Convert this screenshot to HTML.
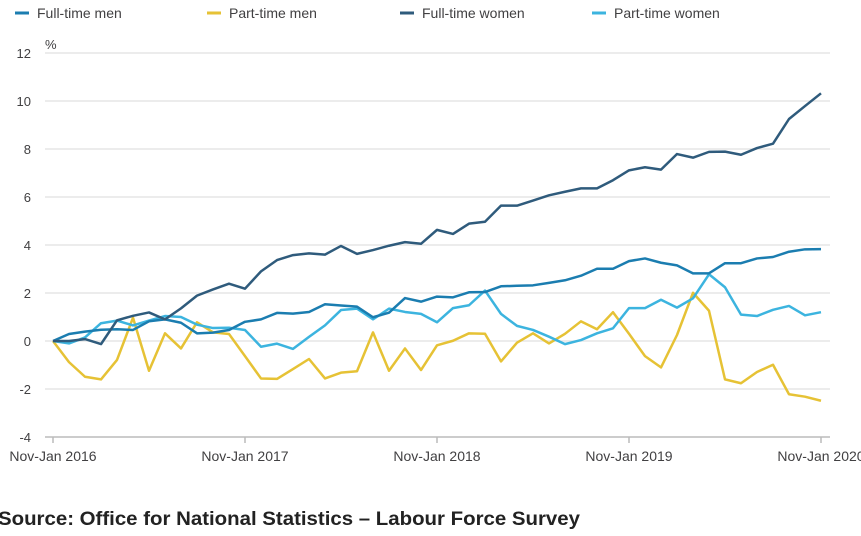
<!DOCTYPE html>
<html><head><meta charset="utf-8"><style>
body{margin:0;background:#fff;width:861px;height:531px;overflow:hidden;font-family:"Liberation Sans",sans-serif;}
svg text{font-family:"Liberation Sans",sans-serif;}
</style></head><body>
<svg id="chart" width="861" height="531" xmlns="http://www.w3.org/2000/svg">
<g id="legend"></g>
<g id="grid"></g>
<g id="yaxis"></g>
<g id="xaxis"></g>
<g id="series"></g>
<text x="45" y="49" font-size="13" fill="#414042">%</text>
<text x="-2" y="525" font-size="19.5" font-weight="bold" fill="#222" textLength="582" lengthAdjust="spacingAndGlyphs">Source: Office for National Statistics – Labour Force Survey</text>
</svg>
<script>
const xTickLabels = ["Nov-Jan 2016","Nov-Jan 2017","Nov-Jan 2018","Nov-Jan 2019","Nov-Jan 2020"];
const yTicks = [-4,-2,0,2,4,6,8,10,12];
const seriesNames = ["Full-time men","Part-time men","Full-time women","Part-time women"];
const seriesColors = ["#1b7db0","#e6c235","#2f5b7c","#3cb4df"];
const fullTimeMen = [0,0.29,0.39,0.47,0.49,0.46,0.82,0.9,0.76,0.32,0.35,0.46,0.8,0.9,1.17,1.14,1.21,1.53,1.48,1.43,0.99,1.18,1.79,1.64,1.85,1.82,2.03,2.04,2.28,2.3,2.32,2.42,2.53,2.72,3.01,3.01,3.33,3.44,3.26,3.15,2.82,2.82,3.24,3.24,3.44,3.5,3.72,3.82,3.83];
const partTimeMen = [0,-0.88,-1.49,-1.6,-0.79,0.97,-1.24,0.32,-0.31,0.78,0.36,0.29,-0.63,-1.56,-1.58,-1.17,-0.75,-1.56,-1.32,-1.26,0.36,-1.24,-0.31,-1.21,-0.18,0.01,0.32,0.3,-0.85,-0.07,0.32,-0.1,0.3,0.82,0.49,1.2,0.3,-0.63,-1.1,0.25,2.01,1.26,-1.6,-1.76,-1.29,-0.99,-2.22,-2.32,-2.49];
const fullTimeWomen = [0,0,0.08,-0.13,0.86,1.05,1.19,0.9,1.36,1.89,2.15,2.39,2.18,2.9,3.37,3.58,3.65,3.6,3.96,3.63,3.79,3.97,4.12,4.05,4.63,4.46,4.89,4.97,5.64,5.64,5.85,6.07,6.22,6.36,6.36,6.7,7.11,7.24,7.14,7.79,7.64,7.88,7.89,7.76,8.04,8.22,9.25,9.79,10.32];
const partTimeWomen = [0,-0.1,0.15,0.74,0.85,0.65,0.85,1.04,1.0,0.68,0.54,0.55,0.46,-0.24,-0.11,-0.33,0.17,0.65,1.29,1.35,0.9,1.35,1.21,1.13,0.78,1.37,1.49,2.1,1.13,0.63,0.46,0.18,-0.13,0.04,0.32,0.53,1.37,1.37,1.72,1.39,1.78,2.78,2.24,1.1,1.04,1.3,1.46,1.07,1.2];

const NS="http://www.w3.org/2000/svg";
const X0=53, XSTEP=16, Y0=341, YU=24;
const xs=i=>X0+i*XSTEP;
const ys=v=>Y0-v*YU;
function mk(tag,parent){const e=document.createElementNS(NS,tag);document.getElementById(parent).appendChild(e);return e;}

yTicks.forEach(t=>{
  const l=mk('line','grid');
  
  
  l.setAttribute('x1',45);l.setAttribute('x2',830);l.setAttribute('y1',ys(t));l.setAttribute('y2',ys(t));
  l.setAttribute('stroke',t===-4?'#bbb':'#e6e6e6');l.setAttribute('stroke-width',1.5);
  const tx=mk('text','yaxis');
  
  
  tx.setAttribute('x',31);tx.setAttribute('y',ys(t)+5);tx.setAttribute('text-anchor','end');
  tx.setAttribute('font-size',13);tx.setAttribute('fill','#414042');tx.textContent=t;
});
xTickLabels.forEach((lab,k)=>{
  const x=xs(k*12);
  const l=mk('line','xaxis');
  
  
  l.setAttribute('x1',x);l.setAttribute('x2',x);l.setAttribute('y1',ys(-4));l.setAttribute('y2',ys(-4)+6);
  l.setAttribute('stroke','#bbb');l.setAttribute('stroke-width',1.5);
  const tx=mk('text','xaxis');
  
  
  tx.setAttribute('x',x);tx.setAttribute('y',461);tx.setAttribute('text-anchor','middle');
  tx.setAttribute('font-size',14);tx.setAttribute('fill','#414042');tx.textContent=lab;
});
const data=[fullTimeMen,partTimeMen,fullTimeWomen,partTimeWomen];
const order=[1,3,0,2];
order.forEach(s=>{
  const p=mk('polyline','series');
  
  
  p.setAttribute('points',data[s].map((v,i)=>xs(i)+','+ys(v)).join(' '));
  p.setAttribute('fill','none');p.setAttribute('stroke',seriesColors[s]);p.setAttribute('stroke-width',2.5);
  p.setAttribute('stroke-linejoin','round');
});
const legX=[15,207,400,592];
seriesNames.forEach((n,s)=>{
  const l=mk('line','legend');
  
  
  l.setAttribute('x1',legX[s]);l.setAttribute('x2',legX[s]+14);l.setAttribute('y1',13);l.setAttribute('y2',13);
  l.setAttribute('stroke',seriesColors[s]);l.setAttribute('stroke-width',3);
  const tx=mk('text','legend');
  
  
  tx.setAttribute('x',legX[s]+22);tx.setAttribute('y',18);
  tx.setAttribute('font-size',14);tx.setAttribute('fill','#414042');tx.textContent=n;
});
</script>
</body></html>
